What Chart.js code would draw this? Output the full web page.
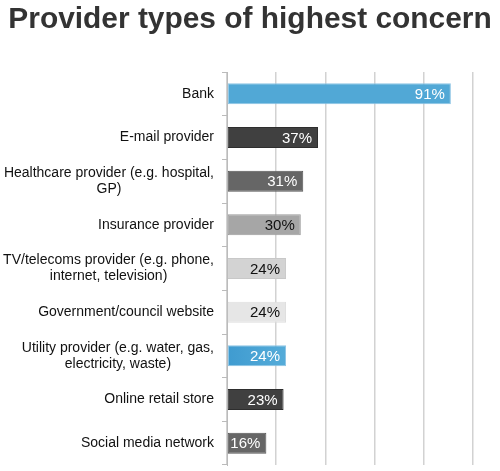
<!DOCTYPE html>
<html>
<head>
<meta charset="utf-8">
<script src="https://cdn.jsdelivr.net/npm/chart.js@4.4.0/dist/chart.umd.min.js"></script>
<style>
  html, body { margin: 0; padding: 0; background: #fff; }
  #wrap { width: 500px; height: 471px; }
</style>
</head>
<body>
<div id="wrap"><canvas id="chart"></canvas></div>
<script>
// ============================================
// CHART DATA
// ============================================

// Provider categories (each entry is the lines of its label)
const categories = [
    ['Bank'],
    ['E-mail provider'],
    ['Healthcare provider (e.g. hospital,', 'GP)'],
    ['Insurance provider'],
    ['TV/telecoms provider (e.g. phone,', 'internet, television)'],
    ['Government/council website'],
    ['Utility provider (e.g. water, gas,', 'electricity, waste)'],
    ['Online retail store'],
    ['Social media network']
];

// Share of respondents (%)
const values = [91, 37, 31, 30, 24, 24, 24, 23, 16];

// Bar fill colours, one per category
const barColors = ['#51a8d6', '#404040', '#666666', '#a6a6a6', '#d3d3d3', '#e6e6e6', '#51a8d6', '#404040', '#666666'];
const barBorders = ['#8cc4e4', '#2e2e2e', '#555555', '#9a9a9a', '#c8c8c8', '#dedede', '#8cc4e4', '#2e2e2e', '#555555'];

// Value label colours (white on dark bars, black on light ones)
const labelColors = ['#fff', '#fff', '#fff', '#111', '#111', '#111', '#fff', '#fff', '#fff'];

const TITLE = 'Provider types of highest concern';
const FONT = '"Liberation Sans", Arial, Helvetica, sans-serif';

// ============================================
// PLUGINS
// ============================================

// Title centred on the whole canvas, sized to span ~484px like the original
const pageTitle = {
    id: 'pageTitle',
    afterDraw(chart) {
        const ctx = chart.ctx;
        ctx.save();
        ctx.font = 'bold 30px ' + FONT;
        const w = ctx.measureText(TITLE).width;
        const size = 30 * 484 / w;
        ctx.font = 'bold ' + size.toFixed(1) + 'px ' + FONT;
        ctx.fillStyle = '#333';
        ctx.textAlign = 'center';
        ctx.textBaseline = 'alphabetic';
        ctx.fillText(TITLE, chart.width / 2, 28);
        ctx.restore();
    }
};

// Draw category labels: block right-aligned to the axis, lines centred inside it
const categoryLabels = {
    id: 'categoryLabels',
    afterDraw(chart) {
        const ctx = chart.ctx;
        const yScale = chart.scales.y;
        ctx.save();
        ctx.font = '14px ' + FONT;
        ctx.fillStyle = '#111';
        ctx.textAlign = 'center';
        ctx.textBaseline = 'middle';
        const lineH = 16;
        categories.forEach((lines, i) => {
            const y = yScale.getPixelForValue(i);
            const maxW = Math.max(...lines.map(l => ctx.measureText(l).width));
            const cx = yScale.right - 13 - maxW / 2;
            const top = y - (lines.length - 1) * lineH / 2;
            lines.forEach((l, k) => ctx.fillText(l, cx, top + k * lineH));
        });
        ctx.restore();
    }
};

// Draw the percentage inside the end of each bar
const valueLabels = {
    id: 'valueLabels',
    afterDatasetsDraw(chart) {
        const ctx = chart.ctx;
        const meta = chart.getDatasetMeta(0);
        ctx.save();
        ctx.font = '15px ' + FONT;
        ctx.textAlign = 'right';
        ctx.textBaseline = 'middle';
        meta.data.forEach((bar, i) => {
            ctx.fillStyle = labelColors[i];
            ctx.fillText(values[i] + '%', bar.x - 6, bar.y + 1);
        });
        ctx.restore();
    }
};

// ============================================
// CHART
// ============================================

new Chart(document.getElementById('chart'), {
    type: 'bar',
    data: {
        labels: categories.map(c => c.join(' ')),
        datasets: [{
            data: values,
            backgroundColor: (c) => {
                const i = c.dataIndex;
                const area = c.chart.chartArea;
                // utility bar has a slight gradient
                if (i === 6 && area) {
                    const g = c.chart.ctx.createLinearGradient(area.left, 0, area.left + 60, 0);
                    g.addColorStop(0, '#3f9bd0');
                    g.addColorStop(1, '#55acd9');
                    return g;
                }
                return barColors[i];
            },
            borderColor: barBorders,
            borderWidth: 1,
            borderSkipped: false,
            barPercentage: 0.48,
            categoryPercentage: 1
        }]
    },
    options: {
        indexAxis: 'y',
        responsive: true,
        maintainAspectRatio: false,
        animation: false,
        layout: { padding: { left: 0, right: 27, top: 72, bottom: 6 } },
        plugins: {
            legend: { display: false },
            tooltip: { enabled: false },
            title: { display: false }
        },
        scales: {
            x: {
                min: 0,
                max: 100,
                ticks: { display: false, stepSize: 20 },
                grid: { color: '#d2d2d2', lineWidth: 1.5, drawTicks: false },
                border: { display: false },
                afterFit(scale) { scale.height = 0; }
            },
            y: {
                ticks: { display: false },
                grid: {
                    offset: true,
                    drawOnChartArea: false,
                    drawTicks: true,
                    tickLength: 5,
                    color: '#bbb'
                },
                border: { display: true, color: '#bbb', width: 1 },
                afterFit(scale) { scale.width = 227; }
            }
        }
    },
    plugins: [pageTitle, categoryLabels, valueLabels]
});
</script>
</body>
</html>
